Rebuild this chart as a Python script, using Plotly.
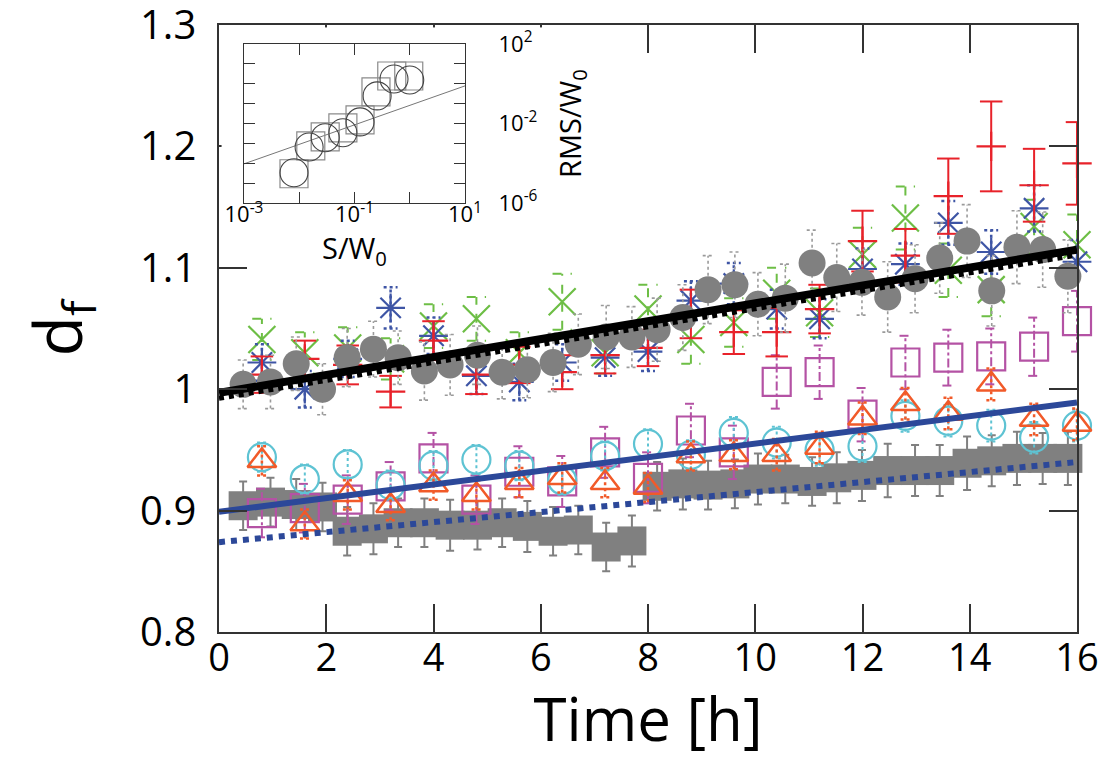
import plotly.graph_objects as go

# ---------------- main data ----------------
t_circ = [0.45, 0.96, 1.44, 1.93, 2.39, 2.88, 3.34, 3.83, 4.31, 4.82, 5.28, 5.75, 6.23, 6.70, 7.22, 7.70,
          8.17, 8.65, 9.12, 9.62, 10.05, 10.56, 11.06, 11.52, 11.99, 12.47, 12.98, 13.44, 13.95, 14.41,
          14.88, 15.36, 15.83]
df_circ = [1.004, 1.006, 1.021, 1.000, 1.026, 1.033, 1.026, 1.015, 1.020, 1.028, 1.014, 1.016, 1.022, 1.037,
           1.043, 1.043, 1.049, 1.059, 1.082, 1.086, 1.070, 1.075, 1.104, 1.092, 1.088, 1.076, 1.091, 1.108,
           1.122, 1.081, 1.117, 1.115, 1.093]
err_circ = [0.020, 0.022, 0.022, 0.021, 0.024, 0.023, 0.022, 0.024, 0.025, 0.024, 0.022, 0.023, 0.024, 0.025,
            0.026, 0.025, 0.026, 0.027, 0.028, 0.027, 0.026, 0.028, 0.027, 0.028, 0.027, 0.029, 0.028, 0.029,
            0.030, 0.029, 0.030, 0.031, 0.030]

t_sq = [0.45, 0.96, 1.44, 1.93, 2.39, 2.88, 3.34, 3.83, 4.31, 4.82, 5.28, 5.75, 6.23, 6.70, 7.22, 7.70,
        8.17, 8.65, 9.12, 9.62, 10.05, 10.56, 11.06, 11.52, 11.99, 12.47, 12.98, 13.44, 13.95, 14.41,
        14.88, 15.36, 15.83]
df_sq = [0.904, 0.907, 0.905, 0.903, 0.883, 0.885, 0.890, 0.890, 0.888, 0.888, 0.890, 0.887, 0.883, 0.884,
         0.870, 0.875, 0.920, 0.922, 0.921, 0.922, 0.926, 0.926, 0.924, 0.927, 0.929, 0.933, 0.933, 0.933,
         0.939, 0.941, 0.943, 0.943, 0.943]
err_sq = [0.020, 0.020, 0.021, 0.020, 0.020, 0.021, 0.020, 0.020, 0.021, 0.020, 0.020, 0.021, 0.020, 0.020,
          0.020, 0.021, 0.020, 0.021, 0.020, 0.020, 0.021, 0.020, 0.020, 0.021, 0.021, 0.022, 0.021, 0.021,
          0.022, 0.021, 0.022, 0.021, 0.022]

t_col = [0.8, 1.6, 2.4, 3.2, 4.0, 4.8, 5.6, 6.4, 7.2, 8.0, 8.8, 9.6, 10.4, 11.2, 12.0, 12.8, 13.6, 14.4, 15.2, 16.0]

df_red = [1.012, 1.025, 1.020, 0.998, 1.040, 1.012, 1.020, 1.014, 1.028, 1.034,
          1.062, 1.047, 1.047, 1.066, 1.122, 1.110, 1.159, 1.200, 1.168, 1.186]
err_red = [0.015, 0.015, 0.016, 0.013, 0.016, 0.016, 0.015, 0.014, 0.015, 0.015,
           0.020, 0.018, 0.020, 0.020, 0.025, 0.022, 0.031, 0.037, 0.030, 0.034]

df_green = [1.041, 1.030, 1.034, 1.025, 1.052, 1.058, 1.030, 1.072, 1.030, 1.066,
            1.041, 1.055, 1.079, 1.063, 1.111, 1.141, 1.098, 1.082, 1.134, 1.119]
err_green = [0.017, 0.017, 0.017, 0.017, 0.018, 0.018, 0.017, 0.023, 0.017, 0.020,
             0.020, 0.020, 0.021, 0.020, 0.022, 0.026, 0.022, 0.022, 0.022, 0.025]

df_blue = [1.022, 1.000, 1.025, 1.067, 1.044, 1.011, 1.006, 1.022, 1.026, 1.031,
           1.073, 1.087, 1.066, 1.058, 1.099, 1.103, 1.137, 1.113, 1.149, 1.105]
err_blue = [0.015, 0.015, 0.015, 0.017, 0.015, 0.015, 0.015, 0.015, 0.015, 0.016,
            0.016, 0.017, 0.016, 0.016, 0.017, 0.017, 0.018, 0.018, 0.019, 0.018]

df_mag = [0.898, 0.902, 0.909, 0.920, 0.943, 0.909, 0.932, 0.924, 0.948, 0.927,
          0.966, 0.948, 1.006, 1.014, 0.979, 1.022, 1.026, 1.027, 1.035, 1.056]
err_mag = [0.020, 0.020, 0.020, 0.020, 0.021, 0.020, 0.021, 0.021, 0.021, 0.021,
           0.022, 0.022, 0.022, 0.022, 0.022, 0.022, 0.023, 0.023, 0.024, 0.025]

df_cyan = [0.944, 0.926, 0.938, 0.921, 0.937, 0.942, 0.937, 0.925, 0.945, 0.955,
           0.946, 0.964, 0.956, 0.950, 0.953, 0.978, 0.974, 0.970, 0.960, 0.970]
err_cyan = [0.012, 0.012, 0.012, 0.012, 0.012, 0.012, 0.012, 0.012, 0.012, 0.012,
            0.012, 0.013, 0.013, 0.013, 0.013, 0.013, 0.013, 0.013, 0.013, 0.013]

df_orange = [0.941, 0.889, 0.913, 0.904, 0.921, 0.913, 0.923, 0.927, 0.923, 0.919,
             0.945, 0.946, 0.946, 0.952, 0.976, 0.988, 0.980, 1.004, 0.975, 0.971]
err_orange = [0.012, 0.012, 0.012, 0.012, 0.012, 0.012, 0.012, 0.012, 0.012, 0.012,
              0.012, 0.012, 0.013, 0.013, 0.013, 0.013, 0.013, 0.013, 0.013, 0.013]

t_fit = [0.0, 16.0]
fit_black = [0.997, 1.115]
fit_blue_solid = [0.899, 0.989]
fit_blue_dot = [0.874, 0.940]

x_ticks = [0, 2, 4, 6, 8, 10, 12, 14, 16]
y_ticks = [0.8, 0.9, 1.0, 1.1, 1.2, 1.3]
y_ticklabels = ['0.8', '0.9', '1', '1.1', '1.2', '1.3']

# ---------------- inset data ----------------
ins_circ_x = [0.00804, 0.0151, 0.0295, 0.0617, 0.126, 0.257, 0.519, 1.0]
ins_circ_y = [3.3e-5, 6.6e-4, 1.9e-3, 3.4e-3, 0.012, 0.245, 1.74, 1.55]
ins_sq_x = [0.00804, 0.0162, 0.0295, 0.0617, 0.126, 0.245, 0.473, 0.96]
ins_sq_y = [2.95e-5, 7.4e-4, 2.1e-3, 6.0e-3, 0.0151, 0.389, 2.45, 2.45]
ins_line_x = [1e-3, 10.0]
ins_line_y = [9.3e-5, 0.78]
ins_x_major = [1e-3, 1e-1, 10]
ins_x_major_text = ['10<sup>-3</sup>', '10<sup>-1</sup>', '10<sup>1</sup>']
ins_x_minor = [1e-2, 1]
ins_y_major = [1e-6, 1e-2, 1e2]
ins_y_major_text = ['10<sup>-6</sup>', '10<sup>-2</sup>', '10<sup>2</sup>']
ins_y_minor = [1e-5, 1e-4, 1e-3, 1e-1, 1, 10]

C_RED = '#E8222A'
C_GREEN = '#6DBE45'
C_BLUE = '#3E55A5'
C_MAG = '#B452A4'
C_CYAN = '#5EC3D3'
C_ORANGE = '#F15A29'
C_GRAY = '#808080'
C_FIT = '#2C4899'
FONT = 'Open Sans'


def err_segments(t, y, e, cap):
    xs, ys = [], []
    for ti, yi, ei in zip(t, y, e):
        xs += [ti, ti, None, ti - cap, ti + cap, None, ti - cap, ti + cap, None]
        ys += [yi - ei, yi + ei, None, yi + ei, yi + ei, None, yi - ei, yi - ei, None]
    return xs, ys


fig = go.Figure()


def add_err(t, y, e, cap, color, dash, width):
    xs, ys = err_segments(t, y, e, cap)
    fig.add_trace(go.Scatter(x=xs, y=ys, mode='lines', line=dict(color=color, dash=dash, width=width),
                             hoverinfo='skip', cliponaxis=False))


def add_markers(t, y, symbol, size, color, lw, fill=None):
    fig.add_trace(go.Scatter(x=t, y=y, mode='markers', cliponaxis=False,
                             marker=dict(symbol=symbol, size=size,
                                         color=fill if fill else color,
                                         line=dict(color=color, width=lw))))


fig.add_trace(go.Scatter(x=t_sq, y=df_sq, mode='markers', cliponaxis=False,
                         marker=dict(symbol='square', size=29, color=C_GRAY, line=dict(width=0)),
                         error_y=dict(type='data', array=err_sq, color=C_GRAY, thickness=2, width=4)))

add_err(t_col, df_mag, err_mag, 0.11, C_MAG, 'dashdot', 2)
add_markers(t_col, df_mag, 'square-open', 28, C_MAG, 2.2)
add_err(t_col, df_cyan, err_cyan, 0.09, C_CYAN, 'dot', 2)
add_markers(t_col, df_cyan, 'circle-open', 28, C_CYAN, 2.2)
add_err(t_col, df_orange, err_orange, 0.09, C_ORANGE, 'dot', 2.5)
add_markers(t_col, df_orange, 'triangle-up-open', 25, C_ORANGE, 2.5)
add_err(t_col, df_green, err_green, 0.18, C_GREEN, 'dash', 2)
add_markers(t_col, df_green, 'x-thin-open', 27, C_GREEN, 2.2)
add_err(t_col, df_blue, err_blue, 0.13, C_BLUE, 'dot', 2.5)
add_markers(t_col, df_blue, 'asterisk-open', 24, C_BLUE, 2.2)
add_err(t_col, df_red, err_red, 0.21, C_RED, 'solid', 2)
add_markers(t_col, df_red, 'cross-thin-open', 21, C_RED, 2.2)
add_err(t_circ, df_circ, err_circ, 0.10, '#9a9a9a', 'dot', 1.6)
add_markers(t_circ, df_circ, 'circle', 27, C_GRAY, 0, fill=C_GRAY)

fig.add_trace(go.Scatter(x=t_fit, y=fit_blue_solid, mode='lines', line=dict(color=C_FIT, width=6)))
fig.add_trace(go.Scatter(x=t_fit, y=fit_blue_dot, mode='lines', line=dict(color=C_FIT, width=6, dash='dot')))
fig.add_trace(go.Scatter(x=t_fit, y=fit_black, mode='lines', line=dict(color='black', width=8)))
fig.add_trace(go.Scatter(x=t_fit, y=[v - 0.0045 for v in fit_black], mode='lines',
                         line=dict(color='black', width=5, dash='dot')))

# empty trace that only creates the white backing subplot under the inset
fig.add_trace(go.Scatter(x=[], y=[], xaxis='x2', yaxis='y2', mode='markers', hoverinfo='skip'))

fig.add_trace(go.Scatter(x=ins_line_x, y=ins_line_y, xaxis='x3', yaxis='y3', mode='lines',
                         line=dict(color='#777777', width=1)))
fig.add_trace(go.Scatter(x=ins_sq_x, y=ins_sq_y, xaxis='x3', yaxis='y3', mode='markers',
                         marker=dict(symbol='square-open', size=28, color='#8a8a8a',
                                     line=dict(color='#8a8a8a', width=1.2))))
fig.add_trace(go.Scatter(x=ins_circ_x, y=ins_circ_y, xaxis='x3', yaxis='y3', mode='markers',
                         marker=dict(symbol='circle-open', size=28, color='#444444',
                                     line=dict(color='#444444', width=1.1))))

axis_common = dict(showgrid=False, zeroline=False, showline=True, linecolor='#333333', linewidth=1.5,
                   ticks='inside', ticklen=28, tickwidth=1.5, tickcolor='#333333', mirror='ticks',
                   ticklabeloverflow='allow')

ins_common = dict(showgrid=False, zeroline=False, showline=True, linecolor='#333333', linewidth=1.2,
                  ticks='inside', ticklen=11, tickwidth=1.2, tickcolor='#333333', mirror='ticks',
                  type='log', ticklabeloverflow='allow')
ins_minor = dict(ticks='inside', ticklen=11, tickwidth=1.2, tickcolor='#333333', showgrid=False)

# the page is drawn with an 8 px body margin: figure is 1104x751 and margins are shifted by 8 px
fig.update_layout(
    width=1104, height=751,
    margin=dict(l=211, r=35, t=17, b=127, autoexpand=False),
    paper_bgcolor='white', plot_bgcolor='white',
    showlegend=False,
    font=dict(family=FONT, color='black'),
    xaxis=dict(axis_common, domain=[0, 1], range=[0, 16],
               tickvals=x_ticks, ticktext=[str(v) for v in x_ticks],
               tickfont=dict(size=38, family=FONT), ticklabelstandoff=-8,
               title=dict(text='Time [h]', font=dict(size=60, family=FONT), standoff=8)),
    yaxis=dict(axis_common, domain=[0, 1], range=[0.8, 1.3],
               tickvals=y_ticks, ticktext=y_ticklabels,
               tickfont=dict(size=40, family=FONT), ticklabelstandoff=13,
               title=dict(text='d<sub>f</sub>', font=dict(size=66, family=FONT), standoff=36)),
    # invisible white backing region behind the inset (hides main ticks underneath)
    xaxis2=dict(domain=[0.003, 0.44], anchor='y2', range=[0, 1], visible=False),
    yaxis2=dict(domain=[0.615, 0.996], anchor='x2', range=[0, 1], visible=False),
    xaxis3=dict(ins_common, domain=[0.0291, 0.2867], anchor='y3', range=[-3, 1],
                tickvals=ins_x_major, ticktext=ins_x_major_text,
                minor=dict(ins_minor, tickvals=ins_x_minor),
                tickfont=dict(size=22, family=FONT), ticklabelstandoff=-8,
                title=dict(text='S/W<sub>0</sub>', font=dict(size=29, family=FONT), standoff=0)),
    yaxis3=dict(ins_common, domain=[0.7068, 0.9687], anchor='x3', range=[-6, 2], side='right',
                tickvals=ins_y_major, ticktext=ins_y_major_text,
                minor=dict(ins_minor, tickvals=ins_y_minor),
                tickfont=dict(size=22, family=FONT), ticklabelstandoff=28,
                title=dict(text='RMS/W<sub>0</sub>', font=dict(size=29, family=FONT), standoff=24)),
)

fig.write_html('out.html')
